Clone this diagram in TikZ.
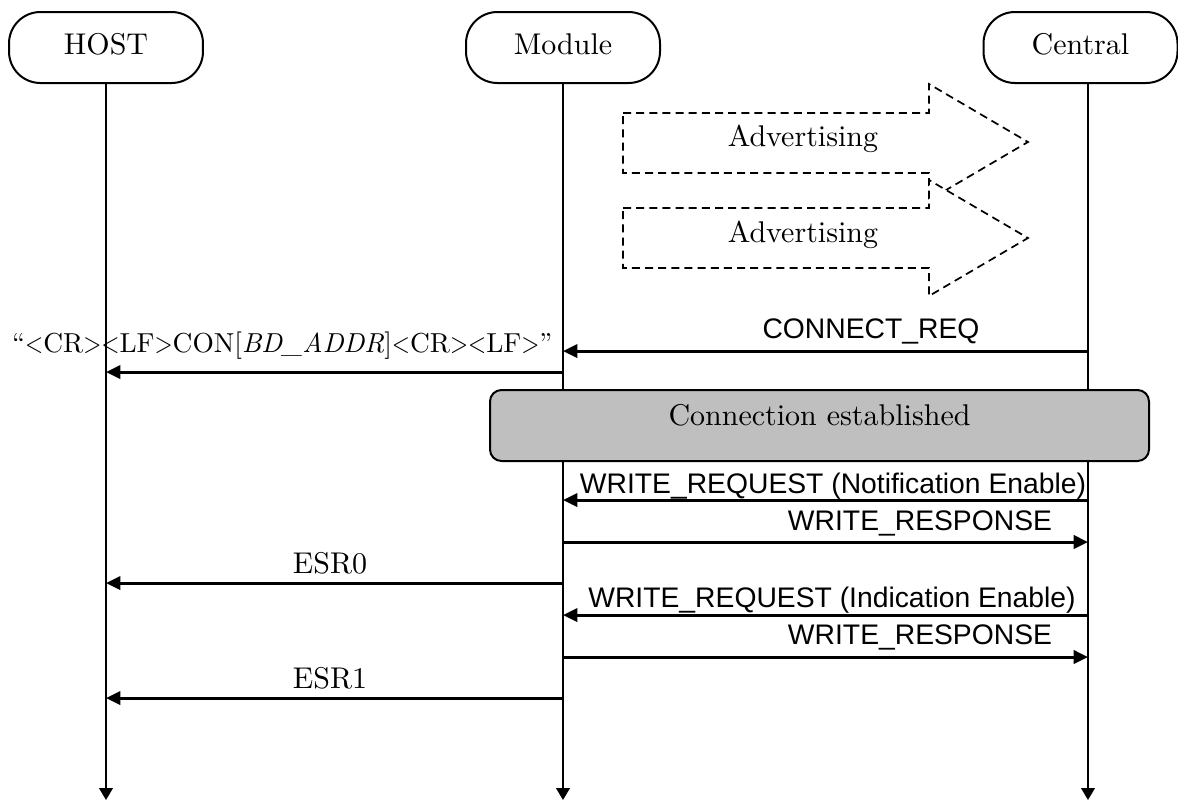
\documentclass[tikz,border=0pt]{standalone}
\usepackage{fontspec}
\usepackage{graphicx}
\newfontfamily\arialf{Liberation Sans}
\usetikzlibrary{arrows.meta}
\newcommand\ltch{\scalebox{0.85}[1]{<}}
\newcommand\gtch{\scalebox{0.85}[1]{>}}
\begin{document}
\begin{tikzpicture}[x=0.35pt,y=-0.35pt,
  part/.style={draw, line width=0.7pt, rounded corners=11pt, minimum width=67.9pt,
    minimum height=24.85pt, inner sep=0pt, text height=7pt, text depth=1.8pt,
    font=\fontsize{10.5}{12}\selectfont},
  life/.style={line width=0.7pt, -{Triangle[length=4.2pt,width=4.8pt]}},
  msg/.style={line width=1.05pt, -{Triangle[length=5pt,width=4.6pt]}},
  lbl/.style={inner sep=0pt, anchor=base, font=\fontsize{10.5}{12}\selectfont},
  slbl/.style={inner sep=0pt, anchor=base, font=\arialf\fontsize{9.9}{12}\selectfont},
  adv/.style={draw, dash pattern=on 2.8pt off 1.8pt, line width=0.6pt, fill=white},
  conn/.style={draw, fill=black!25, rounded corners=4pt, line width=0.7pt,
    minimum width=230.65pt, minimum height=24.85pt, inner sep=0pt,
    text height=6pt, text depth=6pt, font=\fontsize{10.5}{12}\selectfont}
]
\useasboundingbox (0,0) rectangle (1178,801);

% participants
\node[part] (host) at (106,47.5) {HOST};
\node[part] (module) at (563,47.5) {Module};
\node[part] (central) at (1080.5,47.5) {Central};
\coordinate (cenTop) at (1088,83);

% lifelines
\coordinate (hostEnd) at (host.south |- 0,800);
\coordinate (modEnd) at (module.south |- 0,800);
\coordinate (cenEnd) at (cenTop |- 0,800);
\draw[life] (host.south) -- (hostEnd);
\draw[life] (module.south) -- (modEnd);
\draw[life] (cenTop) -- (cenEnd);

% advertising arrows
\draw[adv] (623,113) -- (929,113) -- (929,84) -- (1028,142) -- (929,200) -- (929,173) -- (623,173) -- cycle;
\node[lbl] (adv1) at (803,146) {Advertising};
\draw[adv] (623,208) -- (929,208) -- (929,180) -- (1028,238) -- (929,296) -- (929,268) -- (623,268) -- cycle;
\node[lbl] (adv2) at (803,242) {Advertising};

% CONNECT_REQ
\draw[msg] (cenTop |- 0,351) -- (module.south |- 0,351);
\node[slbl] (lcreq) at (871,338) {CONNECT\_REQ};

% CON to host
\draw[msg] (module.south |- 0,372) -- (host.south |- 0,372);
\node[lbl, anchor=base east, font=\fontsize{9.6}{12}\selectfont] (lcon) at (553,352)
  {“\ltch CR\gtch\ltch LF\gtch CON[\textit{BD\_ADDR}]\ltch CR\gtch\ltch LF\gtch”};

% connection established
\node[conn] (est) at (819.5,425.5) {Connection established};

% write request notification
\draw[msg] (cenTop |- 0,500) -- (module.south |- 0,500);
\node[slbl] (lwr1) at (833,493) {WRITE\_REQUEST (Notification Enable)};
\draw[msg] (module.south |- 0,542) -- (cenTop |- 0,542);
\node[slbl] (lwp1) at (920,530) {WRITE\_RESPONSE};

% ESR0
\draw[msg] (module.south |- 0,583) -- (host.south |- 0,583);
\node[lbl] (lesr0) at (330,573) {ESR0};

% write request indication
\draw[msg] (cenTop |- 0,615) -- (module.south |- 0,615);
\node[slbl] (lwr2) at (832,607) {WRITE\_REQUEST (Indication Enable)};
\draw[msg] (module.south |- 0,657) -- (cenTop |- 0,657);
\node[slbl] (lwp2) at (920,644) {WRITE\_RESPONSE};

% ESR1
\draw[msg] (module.south |- 0,698) -- (host.south |- 0,698);
\node[lbl] (lesr1) at (330,688) {ESR1};
\end{tikzpicture}
\end{document}
